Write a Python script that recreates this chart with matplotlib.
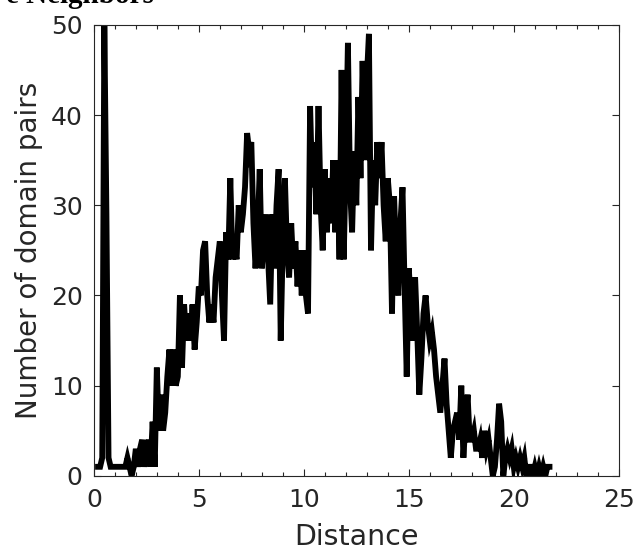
import numpy as np
import matplotlib
matplotlib.use('Agg')
import matplotlib.pyplot as plt
from matplotlib.ticker import MultipleLocator

# distance bins and counts
distance = [
    0.2, 0.3, 0.4, 0.5, 0.6, 0.7, 0.8, 0.9, 1.0, 1.1, 1.2, 1.3, 1.4, 1.5, 1.6, 1.7, 1.8, 1.9,
    2.0, 2.1, 2.2, 2.3, 2.4, 2.5, 2.6, 2.7, 2.8, 2.9, 3.0, 3.1, 3.2, 3.3, 3.4, 3.5, 3.6, 3.7,
    3.8, 3.9, 4.0, 4.1, 4.2, 4.3, 4.4, 4.5, 4.6, 4.7, 4.8, 4.9, 5.0, 5.1, 5.2, 5.3, 5.4, 5.5,
    5.6, 5.7, 5.8, 5.9, 6.0, 6.1, 6.2, 6.3, 6.4, 6.5, 6.6, 6.7, 6.8, 6.9, 7.0, 7.1, 7.2, 7.3,
    7.4, 7.5, 7.6, 7.7, 7.8, 7.9, 8.0, 8.1, 8.2, 8.3, 8.4, 8.5, 8.6, 8.7, 8.8, 8.9, 9.0, 9.1,
    9.2, 9.3, 9.4, 9.5, 9.6, 9.7, 9.8, 9.9, 10.0, 10.1, 10.2, 10.3, 10.4, 10.5, 10.6, 10.7,
    10.8, 10.9, 11.0, 11.1, 11.2, 11.3, 11.4, 11.5, 11.6, 11.7, 11.8, 11.9, 12.0, 12.1, 12.2,
    12.3, 12.4, 12.5, 12.6, 12.7, 12.8, 12.9, 13.0, 13.1, 13.2, 13.3, 13.4, 13.5, 13.6, 13.7,
    13.8, 13.9, 14.0, 14.1, 14.2, 14.3, 14.4, 14.5, 14.6, 14.7, 14.8, 14.9, 15.0, 15.1, 15.2,
    15.3, 15.4, 15.5, 15.6, 15.7, 15.8, 15.9, 16.0, 16.1, 16.2, 16.3, 16.4, 16.5, 16.6, 16.7,
    16.8, 16.9, 17.0, 17.1, 17.2, 17.3, 17.4, 17.5, 17.6, 17.7, 17.8, 17.9, 18.0, 18.1, 18.2,
    18.3, 18.4, 18.5, 18.6, 18.7, 18.8, 18.9, 19.0, 19.1, 19.2, 19.3, 19.4, 19.5, 19.6, 19.7,
    19.8, 19.9, 20.0, 20.1, 20.2, 20.3, 20.4, 20.5, 20.6, 20.7, 20.8, 20.9, 21.0, 21.1, 21.2,
    21.3, 21.4, 21.5, 21.6, 21.7,
]
pairs = [
    1, 1, 2, 50, 29, 2, 1, 1, 1, 1, 1, 1, 1, 1, 2, 1, 0, 1,
    3, 1, 3, 4, 1, 3, 4, 1, 6, 1, 12, 5, 9, 5, 7, 11, 14, 10,
    14, 10, 11, 20, 12, 19, 15, 18, 15, 19, 14, 17, 21, 20, 25, 26, 20, 17,
    19, 17, 22, 24, 26, 20, 15, 27, 24, 33, 24, 25, 24, 30, 27, 29, 32, 38,
    36, 37, 28, 23, 27, 34, 23, 26, 29, 24, 19, 29, 23, 30, 34, 15, 26, 33,
    25, 22, 28, 23, 26, 21, 25, 20, 25, 20, 18, 41, 32, 37, 29, 41,
    30, 25, 34, 27, 33, 28, 35, 27, 35, 24, 45, 24, 35, 48, 32,
    27, 36, 30, 42, 33, 46, 35, 44, 49, 25, 35, 30, 37, 33, 37,
    30, 26, 33, 30, 18, 31, 24, 20, 28, 32, 21, 11, 23, 19, 15,
    22, 16, 9, 13, 18, 20, 17, 15, 16, 14, 11, 9, 7, 10, 13,
    8, 5, 2, 5, 6, 7, 4, 10, 2, 6, 9, 4, 4, 5, 3,
    3, 4, 2, 5, 3, 4, 2, 0, 1, 4, 8, 6, 0, 2, 3,
    2, 3, 1, 2, 1, 2, 1, 2, 0, 1, 1, 0, 1, 0, 1,
    0, 1, 0, 1, 1,
]

fig = plt.figure(figsize=(6.34, 5.52), dpi=100)
ax = fig.add_axes([0.148, 0.138, 0.828, 0.817])

ax.plot(distance, pairs, color='black', linewidth=4.2, solid_joinstyle='miter')

ax.set_xlim(0, 25)
ax.set_ylim(0, 50)
ax.xaxis.set_major_locator(MultipleLocator(5))
ax.xaxis.set_minor_locator(MultipleLocator(1))
ax.yaxis.set_major_locator(MultipleLocator(10))

tick_color = '#262626'
ax.tick_params(axis='both', which='major', direction='in', top=True, right=True,
               length=5, width=0.8, colors=tick_color, labelsize=18)
ax.tick_params(axis='x', which='major', pad=9)
ax.tick_params(axis='y', which='major', pad=8)
ax.tick_params(axis='x', which='minor', direction='in', top=True, bottom=True,
               length=3, width=0.8, colors=tick_color)
for s in ax.spines.values():
    s.set_color(tick_color)
    s.set_linewidth(0.8)

ax.set_xlabel('Distance', fontsize=20.5, color=tick_color, labelpad=8)
ax.set_ylabel('Number of domain pairs', fontsize=20, color=tick_color, labelpad=6)

# title of the original figure, cut off at the top edge
fig.text(154 / 634, 1.0 - 3 / 552, 'e Neighbors', fontsize=21, fontweight='bold',
         family=['Liberation Serif', 'DejaVu Serif'], ha='right', va='baseline')

fig.savefig('out.png', dpi=100)
